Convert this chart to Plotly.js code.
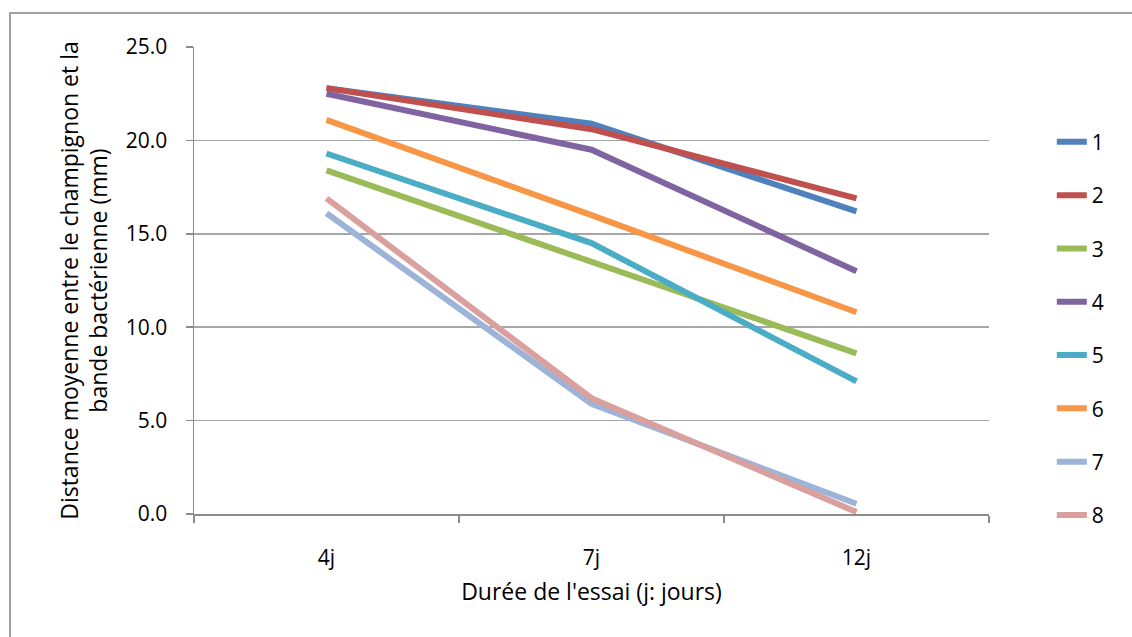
<!DOCTYPE html>
<html>
<head>
<meta charset="utf-8">
<script src="https://cdn.plot.ly/plotly-3.0.1.min.js"></script>
<style>
html,body{margin:0;padding:0;background:#fff;overflow:hidden;}
#frame{position:absolute;left:9px;top:12px;width:1200px;height:700px;border:2px solid #a0a0a0;box-sizing:border-box;}
#chart{position:absolute;left:0;top:0;width:1132px;height:637px;}
</style>
</head>
<body>
<div id="frame"></div>
<div id="chart"></div>
<script>
const categories = ['4j', '7j', '12j'];
const seriesNames = ['1', '2', '3', '4', '5', '6', '7', '8'];
const s1 = [22.8, 20.9, 16.2];
const s2 = [22.8, 20.6, 16.9];
const s3 = [18.4, 13.5, 8.6];
const s4 = [22.5, 19.5, 13.0];
const s5 = [19.3, 14.5, 7.1];
const s6 = [21.1, 16.0, 10.8];
const s7 = [16.1, 5.9, 0.55];
const s8 = [16.9, 6.2, 0.1];
const seriesValues = [s1, s2, s3, s4, s5, s6, s7, s8];
const colors = ['#4F81BD', '#C0504D', '#9BBB59', '#8064A2', '#4BACC6', '#F79646', '#9DB3D7', '#D9A09E'];

const FONT = 'Open Sans, Noto Sans, sans-serif';
const FS = 21;
const FT = 23;

const traces = seriesNames.map((n, i) => ({
  type: 'scatter',
  mode: 'lines',
  name: n,
  x: categories,
  y: seriesValues[i],
  line: {color: colors[i], width: 6},
  legendgroup: 'g' + i,
  hoverinfo: 'none'
}));

const layout = {
  width: 1132,
  height: 637,
  paper_bgcolor: 'rgba(0,0,0,0)',
  plot_bgcolor: 'rgba(0,0,0,0)',
  margin: {l: 194, r: 143, t: 47, b: 123},
  font: {family: FONT, size: FS, color: '#000'},
  showlegend: true,
  legend: {
    x: 1.079, xanchor: 'left',
    y: 0.84, yanchor: 'top',
    traceorder: 'grouped',
    tracegroupgap: 23,
    font: {family: FONT, size: FS, color: '#000'},
    itemwidth: 30,
    bgcolor: 'rgba(0,0,0,0)'
  },
  xaxis: {
    type: 'category',
    range: [-0.5, 2.5],
    showgrid: false,
    showline: true,
    linecolor: '#8c8c8c',
    linewidth: 1.5,
    ticks: 'outside',
    tickson: 'boundaries',
    ticklen: 7,
    tickcolor: '#8c8c8c',
    tickwidth: 1.5,
    ticklabelstandoff: 24,
    tickfont: {family: FONT, size: FS},
    title: {text: "Durée de l'essai (j: jours)", font: {family: FONT, size: FT}, standoff: 14},
    zeroline: false,
    fixedrange: true
  },
  yaxis: {
    range: [0, 25],
    dtick: 5,
    tick0: 0,
    tickformat: '.1f',
    showgrid: true,
    gridcolor: '#a6a6a6',
    gridwidth: 1.5,
    showline: true,
    linecolor: '#8c8c8c',
    linewidth: 1.5,
    ticks: 'outside',
    ticklen: 7,
    tickcolor: '#8c8c8c',
    tickwidth: 1.5,
    ticklabelstandoff: 14,
    tickfont: {family: FONT, size: FS},
    title: {text: 'Distance moyenne entre le champignon et la<br>bande bactérienne (mm)', font: {family: FONT, size: FT}, standoff: 11},
    zeroline: false,
    fixedrange: true
  }
};

Plotly.newPlot('chart', traces, layout, {staticPlot: true, displayModeBar: false});
</script>
</body>
</html>
